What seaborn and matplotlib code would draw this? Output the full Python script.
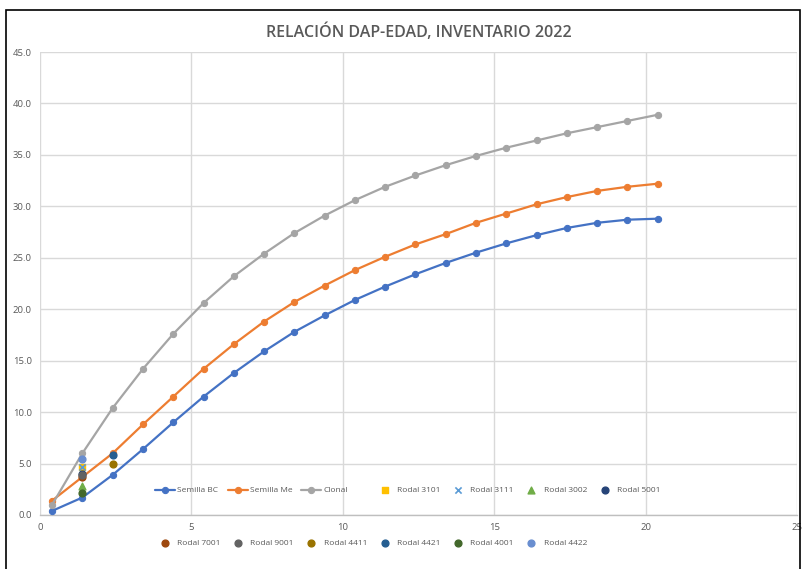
import numpy as np
import matplotlib
matplotlib.use("Agg")
import matplotlib.pyplot as plt
from matplotlib.patches import Rectangle
import seaborn as sns

# Edad (años) de las curvas
edad = [0.4, 1.4, 2.4, 3.4, 4.4, 5.4, 6.4, 7.4, 8.4, 9.4, 10.4,
        11.4, 12.4, 13.4, 14.4, 15.4, 16.4, 17.4, 18.4, 19.4, 20.4]

semilla_bc = [0.4, 1.7, 3.9, 6.4, 9.0, 11.5, 13.8, 15.9, 17.8, 19.4, 20.9,
              22.2, 23.4, 24.5, 25.5, 26.4, 27.2, 27.9, 28.4, 28.7, 28.8]
semilla_me = [1.4, 3.7, 6.0, 8.8, 11.5, 14.2, 16.6, 18.8, 20.7, 22.3, 23.8,
              25.1, 26.3, 27.3, 28.4, 29.3, 30.2, 30.9, 31.5, 31.9, 32.2]
clonal = [1.0, 6.0, 10.4, 14.2, 17.6, 20.6, 23.2, 25.4, 27.4, 29.1, 30.6,
          31.9, 33.0, 34.0, 34.9, 35.7, 36.4, 37.1, 37.7, 38.3, 38.9]

# Rodales medidos
rodales = ["Rodal 3101", "Rodal 3111", "Rodal 3002", "Rodal 5001",
           "Rodal 7001", "Rodal 9001", "Rodal 4411", "Rodal 4421",
           "Rodal 4001", "Rodal 4422"]
rodal_edad = [1.4, 1.4, 1.4, 1.4, 1.4, 1.4, 2.4, 2.4, 1.4, 1.4]
rodal_dap = [4.7, 4.7, 2.8, 4.0, 3.7, 3.9, 5.0, 5.8, 2.1, 5.4]
rodal_color = ["#FFC000", "#5B9BD5", "#70AD47", "#264478", "#9E480E",
               "#636363", "#997300", "#255E91", "#43682B", "#698ED0"]
rodal_marker = ["s", "x", "^", "o", "o", "o", "o", "o", "o", "o"]

sns.set_style("white")
plt.rcParams["font.family"] = ["Open Sans", "DejaVu Sans"]

fig = plt.figure(figsize=(8.05, 5.69), dpi=100)
ax = fig.add_axes([40 / 805, 1 - 515 / 569, 757 / 805, 463 / 569])

series = [("Semilla BC", semilla_bc, "#4472C4"),
          ("Semilla Me", semilla_me, "#ED7D31"),
          ("Clonal", clonal, "#A5A5A5")]
for name, vals, col in series:
    sns.lineplot(x=edad, y=vals, ax=ax, color=col, linewidth=1.6, marker="o",
                 markersize=4.5, markeredgecolor=col, label=name, zorder=3)

for name, xv, yv, col, mk in zip(rodales, rodal_edad, rodal_dap, rodal_color, rodal_marker):
    if mk == "x":
        ax.scatter([xv], [yv], color=col, marker=mk, s=20, linewidths=1.2, label=name, zorder=4)
    else:
        ax.scatter([xv], [yv], color=col, marker=mk, s=24, label=name, zorder=4)

ax.set_xlim(0, 25)
ax.set_ylim(0, 45)
ax.set_xticks(np.arange(0, 26, 5))
ax.set_yticks(np.arange(0, 46, 5))
ax.set_yticklabels([f"{v:.1f}" for v in np.arange(0, 46, 5)])
ax.grid(True, color="#D9D9D9", linewidth=1)
ax.set_axisbelow(True)
for s in ["top", "right", "left"]:
    ax.spines[s].set_visible(False)
ax.spines["bottom"].set_color("#BFBFBF")
ax.spines["bottom"].set_linewidth(1)
ax.tick_params(axis="both", length=0, labelsize=6.8, colors="#595959")
ax.tick_params(axis="y", pad=6)
ax.tick_params(axis="x", pad=6)

ax.set_title("RELACIÓN DAP-EDAD, INVENTARIO 2022", fontsize=11.5, fontweight="semibold",
             color="#595959", pad=11)

# legend in two rows, Excel style (row-major order)
handles, labels = ax.get_legend_handles_labels()
ax.get_legend().remove()
row1 = list(range(7))
row2 = list(range(7, 13))
order = []
for i in range(7):
    order.append(row1[i])
    if i < len(row2):
        order.append(row2[i])
fig.legend([handles[i] for i in order], [labels[i] for i in order],
           ncol=7, loc="center left", bbox_to_anchor=(147 / 805, 1 - 517 / 569),
           frameon=False, fontsize=6, labelcolor="#595959", labelspacing=5.4,
           handlelength=2.4, handletextpad=0.3, columnspacing=0.9)

# outer chart frame
fig.patches.append(Rectangle((6 / 805, -0.05), 794 / 805, 1.05 - 10 / 569,
                             transform=fig.transFigure, fill=False,
                             edgecolor="black", linewidth=1.2))

fig.savefig("out.png", dpi=100)
